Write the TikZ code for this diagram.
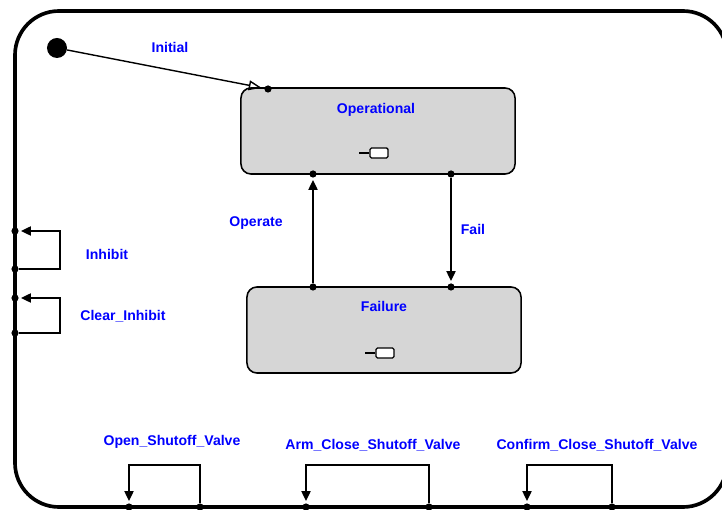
\documentclass[tikz,border=0pt]{standalone}
\usepackage{fontspec}
\setmainfont{Liberation Sans}
\usepackage{tikz}
\usetikzlibrary{arrows.meta}
\tikzstyle{statebox} = [draw=black, fill=gray!32, line width=1.1pt, rounded corners=0.25cm, minimum width=6.85cm, minimum height=2.15cm, inner sep=0pt]
\tikzstyle{evlabel} = [text=blue, font=\bfseries\fontsize{10}{12}\selectfont, inner sep=1pt]
\tikzstyle{junction} = [circle, fill=black, inner sep=0pt, minimum size=0.18cm]
\tikzstyle{trans} = [line width=1pt, -{Triangle[length=7pt,width=6.5pt]}, shorten >=1.5pt]
\tikzstyle{icon} = [draw=black, fill=white, line width=0.9pt, rounded corners=1pt, minimum width=0.45cm, minimum height=0.25cm, inner sep=0pt]

\begin{document}
\begin{tikzpicture}[x=0.025cm, y=-0.025cm]
  \useasboundingbox (0,0) rectangle (722,510);
  \clip (0,0) rectangle (722,510);

  % enclosing state
  \draw[line width=2.6pt, rounded corners=1.1cm] (15,11) rectangle (727,507);

  % initial pseudo state
  \node[circle, fill=black, inner sep=0pt, minimum size=0.5cm] (init) at (57,48) {};
  \node[evlabel] (initlbl) at (170,47) {Initial};

  % substates
  \node[statebox] (oper) at (378,131) {};
  \node[evlabel] (opername) at (376,110) {Operational};
  \node[icon] (opericon) at (379,153) {};
  \draw[line width=0.9pt] (opericon.west) -- ++(-10,0);

  \node[statebox] (fail) at (384,330) {};
  \node[evlabel] (failname) at (384,306) {Failure};
  \node[icon] (failicon) at (385,353) {};
  \draw[line width=0.9pt] (failicon.west) -- ++(-10,0);

  % ports
  \node[junction] (oper-in) at (268,89) {};
  \node[junction] (oper-s1) at (313,174) {};
  \node[junction] (oper-s2) at (451,174) {};
  \node[junction] (fail-n1) at (313,287) {};
  \node[junction] (fail-n2) at (451,287) {};

  \draw[line width=1pt, -{Triangle[open,length=9pt,width=7pt]}, shorten >=2pt] (init) -- (oper-in);

  \draw[trans] (fail-n1) -- (oper-s1);
  \node[evlabel] (operate) at (256,223) {Operate};
  \draw[trans] (oper-s2) -- (fail-n2);
  \node[evlabel] (faillbl) at (473,229) {Fail};

  % self transitions on the left
  \node[junction] (inh-in) at (15,231) {};
  \node[junction] (inh-out) at (15,269) {};
  \draw[trans] (inh-out) -- ++(45,0) |- (inh-in);
  \node[evlabel] (inhibit) at (107,254) {Inhibit};

  \node[junction] (clr-in) at (15,298) {};
  \node[junction] (clr-out) at (15,333) {};
  \draw[trans] (clr-out) -- ++(45,0) |- (clr-in);
  \node[evlabel] (clear) at (123,316) {Clear\_Inhibit};

  % self transitions at the bottom
  \node[junction] (open-in) at (129,507) {};
  \node[junction] (open-out) at (200,507) {};
  \draw[trans] (open-out) -- ++(0,-42) -| (open-in);
  \node[evlabel] (open) at (172,442) {Open\_Shutoff\_Valve};

  \node[junction] (arm-in) at (306,507) {};
  \node[junction] (arm-out) at (429,507) {};
  \draw[trans] (arm-out) -- ++(0,-42) -| (arm-in);
  \node[evlabel] (arm) at (373,445) {Arm\_Close\_Shutoff\_Valve};

  \node[junction] (conf-in) at (527,507) {};
  \node[junction] (conf-out) at (612,507) {};
  \draw[trans] (conf-out) -- ++(0,-42) -| (conf-in);
  \node[evlabel] (confirm) at (597,445) {Confirm\_Close\_Shutoff\_Valve};

\end{tikzpicture}
\end{document}
